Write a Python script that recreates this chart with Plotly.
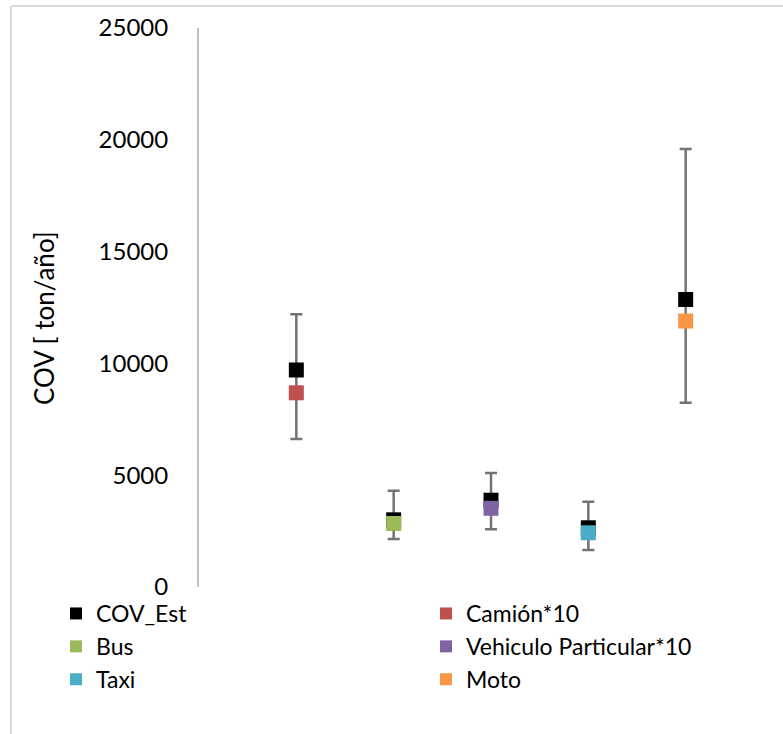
import plotly.graph_objects as go

# ---- data ----
x_pos = [1, 2, 3, 4, 5]
cov_est = [9705, 3005, 3882, 2648, 12858]
cov_upper = [12200, 4307, 5098, 3815, 19589]
cov_lower = [6619, 2147, 2580, 1655, 8242]

series_names = ["Camión*10", "Bus", "Vehiculo Particular*10", "Taxi", "Moto"]
series_values = [8685, 2840, 3520, 2424, 11896]
series_colors = ["#c0504d", "#9bbb59", "#8064a2", "#4bacc6", "#f79646"]
legend_column = ["legend2", "legend", "legend2", "legend", "legend2"]

y_ticks = [0, 5000, 10000, 15000, 20000, 25000]
y_title = "COV [ ton/año]"

# ---- layout constants (pixels) ----
W, H = 783, 734
ML, MR, MT, MB = 199, 0, 28, 147
PW, PH = W - ML - MR, H - MT - MB
FONT = "Lato"

def px_x(p):
    return (p - ML) / PW

def px_y(p):
    return (H - MB - p) / PH

fig = go.Figure()

fig.add_trace(go.Scatter(
    x=x_pos, y=cov_est, mode="markers", name="COV_Est", legend="legend",
    marker=dict(symbol="square", size=15, color="#000000"),
    error_y=dict(
        type="data", symmetric=False,
        array=[u - v for u, v in zip(cov_upper, cov_est)],
        arrayminus=[v - l for v, l in zip(cov_est, cov_lower)],
        color="#737373", thickness=2.5, width=6,
    ),
))

for i, (name, val, col, lg) in enumerate(zip(series_names, series_values, series_colors, legend_column)):
    fig.add_trace(go.Scatter(
        x=[x_pos[i]], y=[val], mode="markers", name=name, legend=lg,
        marker=dict(symbol="square", size=15, color=col),
    ))

# outer chart border (light grey), left and top edges
fig.add_shape(type="line", xref="paper", yref="paper",
              x0=px_x(11), x1=px_x(11), y0=px_y(6), y1=px_y(H + 10),
              line=dict(color="#d9d9d9", width=2), layer="above")
fig.add_shape(type="line", xref="paper", yref="paper",
              x0=px_x(11), x1=px_x(W + 10), y0=px_y(6), y1=px_y(6),
              line=dict(color="#d9d9d9", width=2), layer="above")

fig.add_annotation(text=y_title, xref="paper", yref="paper", x=px_x(44), y=px_y(318),
                   xanchor="center", yanchor="middle", textangle=-90, showarrow=False,
                   font=dict(family=FONT, size=26, color="#000000"))

legend_common = dict(
    orientation="v", yanchor="top", xanchor="left",
    font=dict(family=FONT, size=23, color="#000000"),
    itemsizing="constant", tracegroupgap=0, bgcolor="rgba(0,0,0,0)",
)

fig.update_layout(
    width=W, height=H,
    margin=dict(l=ML, r=MR, t=MT, b=MB, autoexpand=False),
    paper_bgcolor="white", plot_bgcolor="white",
    font=dict(family=FONT, size=24, color="#000000"),
    showlegend=True,
    legend=dict(x=px_x(56), y=px_y(592), **legend_common),
    legend2=dict(x=px_x(426), y=px_y(592), **legend_common),
    xaxis=dict(range=[0, 6], visible=False, showgrid=False, zeroline=False),
    yaxis=dict(
        range=[0, 25000], tickvals=y_ticks, ticktext=[str(t) for t in y_ticks],
        showgrid=False, zeroline=False, showline=True, linecolor="#bfbfbf", linewidth=2,
        ticks="", ticklabelstandoff=24,
        tickfont=dict(family=FONT, size=24, color="#000000"),
    ),
)

fig.write_html("out.html", config={"displayModeBar": False},
               post_script="document.body.style.margin='0';document.body.style.padding='0';")
